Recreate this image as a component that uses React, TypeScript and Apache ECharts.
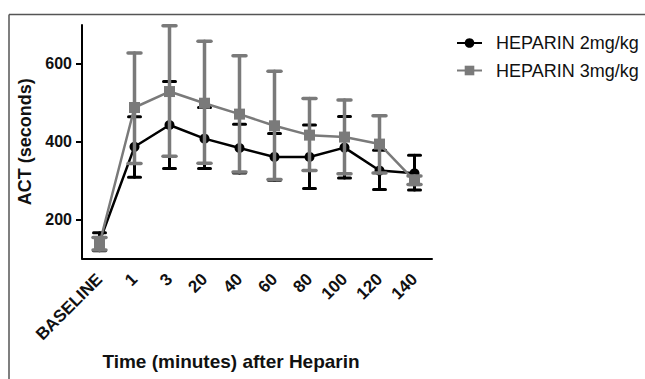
import React, { useEffect, useRef } from "react";
import * as echarts from "echarts";

const categories = ["BASELINE", "1", "3", "20", "40", "60", "80", "100", "120", "140"];
const mean2 = [143, 387, 443, 408, 384, 361, 361, 385, 326, 319];
const upper2 = [166, 464, 555, 488, 445, 421, 443, 465, 378, 365];
const lower2 = [120, 309, 331, 331, 320, 301, 280, 307, 277, 276];
const mean3 = [138, 488, 529, 499, 471, 441, 417, 412, 394, 300];
const upper3 = [154, 628, 698, 658, 621, 581, 511, 507, 467, 312];
const lower3 = [122, 344, 363, 345, 322, 303, 326, 318, 320, 290];
const yTicks = [200, 400, 600];
const seriesNames = ["HEPARIN 2mg/kg", "HEPARIN 3mg/kg"];

const FONT = "'Liberation Sans', Arial, Helvetica, sans-serif";
const BLACK = "#000000";
const GRAY = "#7a7a7a";

function makeErr(name: string, low: number[], high: number[], color: string, lw: number, capW: number, z: number) {
  return {
    type: "custom",
    name,
    z,
    silent: true,
    data: categories.map((_, i) => [i, low[i], high[i]]),
    encode: { x: 0, y: [1, 2] },
    renderItem: (params: any, api: any) => {
      const x = api.value(0);
      const lo = api.coord([x, api.value(1)]);
      const hi = api.coord([x, api.value(2)]);
      const style = { stroke: color, lineWidth: lw, lineCap: "round" };
      return {
        type: "group",
        children: [
          { type: "line", shape: { x1: lo[0], y1: lo[1], x2: hi[0], y2: hi[1] }, style },
          { type: "line", shape: { x1: hi[0] - capW / 2, y1: hi[1], x2: hi[0] + capW / 2, y2: hi[1] }, style },
          { type: "line", shape: { x1: lo[0] - capW / 2, y1: lo[1], x2: lo[0] + capW / 2, y2: lo[1] }, style },
        ],
      };
    },
  };
}

export default function App() {
  const ref = useRef<HTMLDivElement>(null);
  useEffect(() => {
    if (!ref.current) return;
    const chart = echarts.init(ref.current, null, { renderer: "svg" });
    chart.setOption({
      animation: false,
      backgroundColor: "#ffffff",
      textStyle: { fontFamily: FONT },
      grid: { left: 82, top: 25, width: 350, height: 233.5 },
      legend: {
        orient: "vertical",
        left: 451,
        top: 29,
        itemWidth: 25,
        itemHeight: 12,
        itemGap: 9.5,
        data: seriesNames,
        textStyle: { fontFamily: FONT, fontSize: 18, color: "#111", padding: [0, 0, 0, 9] },
      },
      xAxis: {
        type: "category",
        data: categories,
        boundaryGap: true,
        axisLine: { lineStyle: { color: BLACK, width: 2 } },
        axisTick: { alignWithLabel: true, length: 7, lineStyle: { color: BLACK, width: 2 } },
        axisLabel: {
          rotate: 45,
          margin: 18,
          interval: 0,
          fontSize: 17,
          fontWeight: "bold",
          color: "#111",
          fontFamily: FONT,
        },
        name: "Time (minutes) after Heparin",
        nameLocation: "middle",
        nameGap: 93,
        nameTextStyle: {
          fontSize: 19,
          fontWeight: "bold",
          color: "#111",
          fontFamily: FONT,
          padding: [0, 52, 0, 0],
        },
      },
      yAxis: {
        type: "value",
        min: 100,
        max: 700,
        interval: 100,
        splitLine: { show: false },
        axisLine: { show: true, lineStyle: { color: BLACK, width: 2 } },
        axisTick: { show: true, length: 6, customValues: yTicks, lineStyle: { color: BLACK, width: 2 } },
        axisLabel: {
          customValues: yTicks,
          formatter: (v: number) => (yTicks.indexOf(v) >= 0 ? String(v) : ""),
          margin: 10,
          fontSize: 16,
          fontWeight: "bold",
          color: "#111",
          fontFamily: FONT,
        },
        name: "ACT (seconds)",
        nameLocation: "middle",
        nameGap: 42,
        nameTextStyle: { fontSize: 18, fontWeight: "bold", color: "#111", fontFamily: FONT },
      },
      graphic: [
        { type: "line", shape: { x1: 9, y1: 14.5, x2: 645, y2: 14.5 }, style: { stroke: "#555", lineWidth: 1.5 } },
        { type: "line", shape: { x1: 9, y1: 14.5, x2: 9, y2: 379 }, style: { stroke: "#555", lineWidth: 1.5 } },
      ],
      series: [
        makeErr("err2", lower2, upper2, BLACK, 3, 12, 2),
        {
          type: "line",
          name: seriesNames[0],
          z: 3,
          data: mean2,
          symbol: "circle",
          symbolSize: 10,
          itemStyle: { color: BLACK },
          lineStyle: { color: BLACK, width: 2.5 },
        },
        makeErr("err3", lower3, upper3, GRAY, 3.5, 13, 4),
        {
          type: "line",
          name: seriesNames[1],
          z: 5,
          data: mean3,
          symbol: "rect",
          symbolSize: 11,
          itemStyle: { color: GRAY },
          lineStyle: { color: GRAY, width: 2.5 },
        },
      ],
    });
    return () => chart.dispose();
  }, []);
  return (
    <div
      ref={ref}
      style={{ position: "fixed", left: 0, top: 0, width: 645, height: 379, background: "#fff" }}
    />
  );
}
